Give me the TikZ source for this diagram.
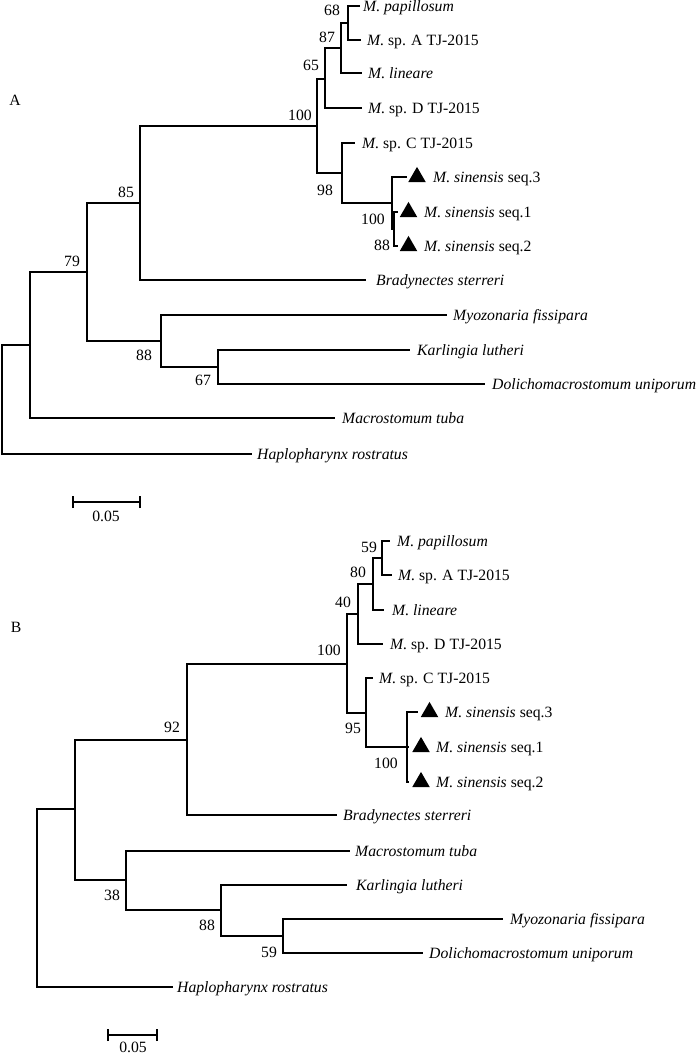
\documentclass[tikz,border=0pt]{standalone}
\usepackage{fontspec}
\setmainfont{Liberation Serif}
\usetikzlibrary{shapes.geometric}
\begin{document}
\begin{tikzpicture}[x=1pt,y=-1pt,
  br/.style={line width=2pt},
  txt/.style={inner sep=0pt,text height=10pt,text depth=0pt,font=\fontsize{15.7}{18}\selectfont},
  tip/.style={txt,anchor=west},
  bs/.style={txt,anchor=center},
  tri/.style={regular polygon,regular polygon sides=3,fill=black,draw=none,inner sep=0pt,minimum size=20.2pt},
  panel/.style={txt,anchor=center}]
\useasboundingbox (0,0) rectangle (700,1055);
% ================= Tree A =================
\coordinate (rA) at (2,399);
\coordinate (xA) at (30,345);
\coordinate (yA) at (87,272);
\coordinate (a85) at (140,203);
\coordinate (a100) at (317,126);
\coordinate (a65) at (325,79);
\coordinate (a87) at (341,48);
\coordinate (a68) at (348,23);
\coordinate (a98) at (342,173);
\coordinate (a100s) at (392,203);
\coordinate (a88s) at (394,229);
\coordinate (a88) at (161,341);
\coordinate (a67) at (218,367);
\coordinate (tApap) at (360,6);
\coordinate (tAspA) at (361,40);
\coordinate (tAlin) at (362,73);
\coordinate (tAspD) at (362,108);
\coordinate (tAspC) at (355,143);
\coordinate (tAs3) at (407,177);
\coordinate (tAs1) at (398,212);
\coordinate (tAs2) at (398,246);
\coordinate (tAbra) at (366,280);
\coordinate (tAmyo) at (447,315);
\coordinate (tAkar) at (410,350);
\coordinate (tAdol) at (485,384);
\coordinate (tAmac) at (335,418);
\coordinate (tAhap) at (252,454);
\draw[br] (rA) |- (xA);   \draw[br] (rA) |- (tAhap);
\draw[br] (xA) |- (yA);   \draw[br] (xA) |- (tAmac);
\draw[br] (yA) |- (a85);  \draw[br] (yA) |- (a88);
\draw[br] (a85) |- (a100); \draw[br] (a85) |- (tAbra);
\draw[br] (a100) |- (a65); \draw[br] (a100) |- (a98);
\draw[br] (a65) |- (a87); \draw[br] (a65) |- (tAspD);
\draw[br] (a87) |- (a68); \draw[br] (a87) |- (tAlin);
\draw[br] (a68) |- (tApap); \draw[br] (a68) |- (tAspA);
\draw[br] (a98) |- (tAspC); \draw[br] (a98) |- (a100s);
\draw[br] (a100s) |- (tAs3); \draw[br] (a100s) |- (a88s);
\draw[br] (a88s) |- (tAs1); \draw[br] (a88s) |- (tAs2);
\draw[br] (a88) |- (tAmyo); \draw[br] (a88) |- (a67);
\draw[br] (a67) |- (tAkar); \draw[br] (a67) |- (tAdol);
% tip labels A
\node[tip] (lApap) at (363,6) {\textit{M. papillosum}};
\node[tip] (lAspA) at (367,40) {\textit{M.} sp. A TJ-2015};
\node[tip] (lAlin) at (368,73) {\textit{M. lineare}};
\node[tip] (lAspD) at (368,108) {\textit{M.} sp. D TJ-2015};
\node[tip] (lAspC) at (362,143) {\textit{M.} sp. C TJ-2015};
\node[tri] (triA3) at (417,177) {};
\node[tri] (triA1) at (408.5,212) {};
\node[tri] (triA2) at (408.5,246) {};
\node[tip] (lAs3) at (433,177) {\textit{M. sinensis} seq.3};
\node[tip] (lAs1) at (424,212) {\textit{M. sinensis} seq.1};
\node[tip] (lAs2) at (424,246) {\textit{M. sinensis} seq.2};
\node[tip] (lAbra) at (376,280) {\textit{Bradynectes sterreri}};
\node[tip] (lAmyo) at (453,315) {\textit{Myozonaria fissipara}};
\node[tip] (lAkar) at (417,350) {\textit{Karlingia lutheri}};
\node[tip] (lAdol) at (492,384) {\textit{Dolichomacrostomum uniporum}};
\node[tip] (lAmac) at (342,418) {\textit{Macrostomum tuba}};
\node[tip] (lAhap) at (257,454) {\textit{Haplopharynx rostratus}};
% bootstrap A
\node[bs] (bA68) at (332,10) {68};
\node[bs] (bA87) at (327,37) {87};
\node[bs] (bA65) at (311,65) {65};
\node[bs] (bA100) at (300,115) {100};
\node[bs] (bA85) at (126,192) {85};
\node[bs] (bA79) at (72,261) {79};
\node[bs] (bA98) at (325,190) {98};
\node[bs] (bA100s) at (373,219) {100};
\node[bs] (bA88s) at (382,245) {88};
\node[bs] (bA88) at (144,355) {88};
\node[bs] (bA67) at (203,380) {67};
\node[panel] (pA) at (15,100) {A};
% scale bar A
\coordinate (sA1) at (73,502);
\coordinate (sA2) at (140,502);
\draw[br] (sA1) -- (sA2);
\draw[br] ([yshift=-6pt]sA1) -- ([yshift=6pt]sA1);
\draw[br] ([yshift=-6pt]sA2) -- ([yshift=6pt]sA2);
\node[bs] (scA) at (106,516) {0.05};
% ================= Tree B =================
\coordinate (rB) at (37,898);
\coordinate (xB) at (75,809);
\coordinate (b92) at (187,740);
\coordinate (b100) at (347,664);
\coordinate (b40) at (358,614);
\coordinate (b80) at (373,584);
\coordinate (b59) at (382,558);
\coordinate (b95) at (366,713);
\coordinate (b100s) at (407,747);
\coordinate (b38) at (126,880);
\coordinate (b88) at (221,910);
\coordinate (b59b) at (283,936);
\coordinate (tBpap) at (390,541);
\coordinate (tBspA) at (392,575);
\coordinate (tBlin) at (384,610);
\coordinate (tBspD) at (383,644);
\coordinate (tBspC) at (373,678);
\coordinate (tBs3) at (418,712);
\coordinate (tBs1) at (409,747);
\coordinate (tBs2) at (409,782);
\coordinate (tBbra) at (337,815);
\coordinate (tBmac) at (350,851);
\coordinate (tBkar) at (347,885);
\coordinate (tBmyo) at (503,919);
\coordinate (tBdol) at (423,953);
\coordinate (tBhap) at (173,987);
\draw[br] (rB) |- (xB);   \draw[br] (rB) |- (tBhap);
\draw[br] (xB) |- (b92);  \draw[br] (xB) |- (b38);
\draw[br] (b92) |- (b100); \draw[br] (b92) |- (tBbra);
\draw[br] (b100) |- (b40); \draw[br] (b100) |- (b95);
\draw[br] (b40) |- (b80); \draw[br] (b40) |- (tBspD);
\draw[br] (b80) |- (b59); \draw[br] (b80) |- (tBlin);
\draw[br] (b59) |- (tBpap); \draw[br] (b59) |- (tBspA);
\draw[br] (b95) |- (tBspC); \draw[br] (b95) |- (b100s);
\draw[br] (b100s) |- (tBs3); \draw[br] (b100s) |- (tBs1); \draw[br] (b100s) |- (tBs2);
\draw[br] (b38) |- (tBmac); \draw[br] (b38) |- (b88);
\draw[br] (b88) |- (tBkar); \draw[br] (b88) |- (b59b);
\draw[br] (b59b) |- (tBmyo); \draw[br] (b59b) |- (tBdol);
% tip labels B
\node[tip] (lBpap) at (397,541) {\textit{M. papillosum}};
\node[tip] (lBspA) at (398,575) {\textit{M.} sp. A TJ-2015};
\node[tip] (lBlin) at (392,610) {\textit{M. lineare}};
\node[tip] (lBspD) at (390,644) {\textit{M.} sp. D TJ-2015};
\node[tip] (lBspC) at (379,678) {\textit{M.} sp. C TJ-2015};
\node[tri] (triB3) at (429.5,712) {};
\node[tri] (triB1) at (421,747) {};
\node[tri] (triB2) at (421,782) {};
\node[tip] (lBs3) at (445,712) {\textit{M. sinensis} seq.3};
\node[tip] (lBs1) at (436,747) {\textit{M. sinensis} seq.1};
\node[tip] (lBs2) at (436,782) {\textit{M. sinensis} seq.2};
\node[tip] (lBbra) at (343,815) {\textit{Bradynectes sterreri}};
\node[tip] (lBmac) at (355,851) {\textit{Macrostomum tuba}};
\node[tip] (lBkar) at (356,885) {\textit{Karlingia lutheri}};
\node[tip] (lBmyo) at (510,919) {\textit{Myozonaria fissipara}};
\node[tip] (lBdol) at (429,953) {\textit{Dolichomacrostomum uniporum}};
\node[tip] (lBhap) at (177,987) {\textit{Haplopharynx rostratus}};
% bootstrap B
\node[bs] (bB59) at (369,547) {59};
\node[bs] (bB80) at (358,572) {80};
\node[bs] (bB40) at (343,602) {40};
\node[bs] (bB100) at (329,650) {100};
\node[bs] (bB92) at (172,727) {92};
\node[bs] (bB95) at (353,728) {95};
\node[bs] (bB100s) at (386,763) {100};
\node[bs] (bB38) at (112,895) {38};
\node[bs] (bB88) at (207,925) {88};
\node[bs] (bB59b) at (269,952) {59};
\node[panel] (pB) at (16,627) {B};
% scale bar B
\coordinate (sB1) at (108,1035);
\coordinate (sB2) at (157,1035);
\draw[br] (sB1) -- (sB2);
\draw[br] ([yshift=-6pt]sB1) -- ([yshift=6pt]sB1);
\draw[br] ([yshift=-6pt]sB2) -- ([yshift=6pt]sB2);
\node[bs] (scB) at (133,1047) {0.05};
\end{tikzpicture}
\end{document}
